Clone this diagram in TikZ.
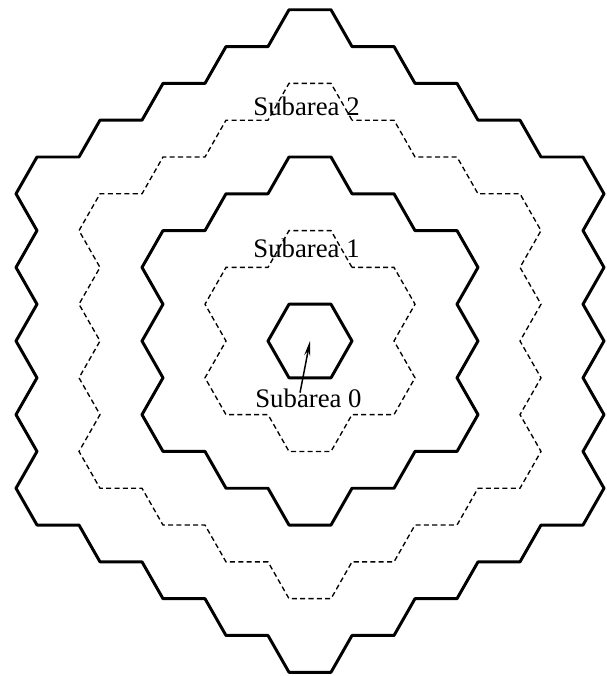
\documentclass[tikz,border=0pt]{standalone}
\usepackage{fontspec}
\setmainfont{Liberation Serif}
\usetikzlibrary{calc,arrows.meta}

\newcommand\hexstep{1.7320508}

\tikzset{
  ringline/.style={line width=2pt, line join=round, line cap=round},
  dashline/.style={line width=0.9pt, dash pattern=on 3.4pt off 2.2pt},
  arealabel/.style={anchor=base, inner sep=0pt, font=\fontsize{18}{22}\selectfont},
  pointer/.style={line width=1pt, -{Stealth[length=10pt,width=4pt]}}
}

\begin{document}
\begin{tikzpicture}[x=0.9929cm, y=1.0047cm]

\useasboundingbox (-7.381,-7.882) rectangle (7.071,8.024);

% centre cell
\coordinate (c0) at (0,0);
\draw[ringline] (0:1) \foreach \a in {60,120,...,300} { -- (\a:1) } -- cycle;

% ring borders
\foreach \n/\sty [evaluate=\n as \m using int(\n-1)] in {1/dashline, 2/ringline, 3/dashline, 4/ringline} {
  \draw[\sty] ($(90:\n*\hexstep)+(0:1)$)
    \foreach \k [evaluate=\k as \th using 90+60*\k] in {0,...,5} {
      -- ($(\th:\n*\hexstep)+(\th-90:1)$)
      \foreach \j in {0,...,\m} {
        -- ($(\th:\n*\hexstep)+(\th+120:\j*\hexstep)+(\th-30:1)$)
        -- ($(\th:\n*\hexstep)+(\th+120:\j*\hexstep)+(\th+30:1)$)
      }
    } -- cycle;
}

\node[arealabel] (sub2) at (-0.083,5.318) {Subarea 2};
\node[arealabel] (sub1) at (-0.083,1.976) {Subarea 1};
\node[arealabel] (sub0) at (-0.036,-1.553) {Subarea 0};

\draw[pointer] ([xshift=-0.2cm,yshift=-3pt]sub0.north) -- (c0);

\end{tikzpicture}
\end{document}
